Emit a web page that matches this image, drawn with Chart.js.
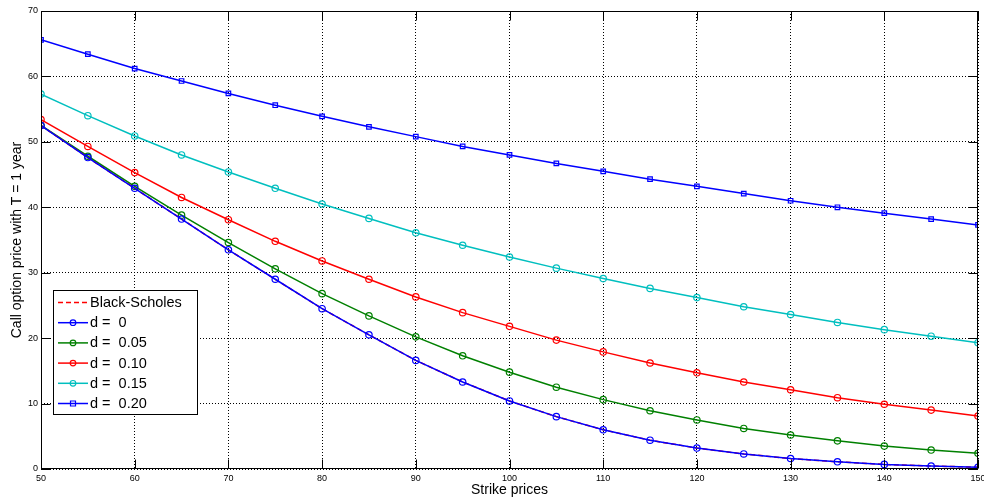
<!DOCTYPE html>
<html>
<head>
<meta charset="utf-8">
<script src="https://cdn.jsdelivr.net/npm/chart.js@4.4.0/dist/chart.umd.min.js"></script>
<style>
html,body{margin:0;padding:0;background:#fff;}
#wrap{width:984px;height:501px;position:relative;}
</style>
</head>
<body>
<div id="wrap"><canvas id="c" width="984" height="501"></canvas></div>
<script>
const strikes = [50,55,60,65,70,75,80,85,90,95,100,105,110,115,120,125,130,135,140,145,150];
const seriesLabels = ['Black-Scholes','d =  0','d =  0.05','d =  0.10','d =  0.15','d =  0.20'];
const blackScholes = [52.5,47.6,42.9,38.2,33.5,29.0,24.5,20.5,16.6,13.3,10.4,8.0,6.0,4.4,3.2,2.3,1.6,1.1,0.7,0.46,0.27];
const d000 = [52.5,47.6,42.9,38.2,33.5,29.0,24.5,20.5,16.6,13.3,10.4,8.0,6.0,4.4,3.2,2.3,1.6,1.1,0.7,0.46,0.27];
const d005 = [52.5,47.8,43.2,38.8,34.6,30.6,26.8,23.4,20.2,17.3,14.8,12.5,10.6,8.9,7.5,6.2,5.2,4.3,3.5,2.9,2.4];
const d010 = [53.4,49.3,45.3,41.5,38.1,34.8,31.8,29.0,26.3,23.9,21.8,19.7,17.9,16.2,14.7,13.3,12.1,10.9,9.9,9.0,8.1];
const d015 = [57.3,54.0,50.9,48.0,45.4,42.9,40.5,38.3,36.1,34.2,32.4,30.7,29.1,27.6,26.2,24.8,23.6,22.4,21.3,20.3,19.3];
const d020 = [65.6,63.4,61.2,59.3,57.4,55.6,53.9,52.3,50.8,49.3,48.0,46.7,45.5,44.3,43.2,42.1,41.0,40.0,39.1,38.2,37.3];
const xTicks = [50,60,70,80,90,100,110,120,130,140,150];
const yTicks = [0,10,20,30,40,50,60,70];
const xTitle = 'Strike prices';
const yTitle = 'Call option price with T = 1 year';

const allValues = [blackScholes,d000,d005,d010,d015,d020];
const colors = ['#ff0000','#0000ff','#008000','#ff0000','#00bfbf','#0000ff'];
const styles = [null,'circle','circle','circle','circle','rect'];
const dashes = [[5,3],[],[],[],[],[]];
const orders = [1,0,2,3,4,5];

const datasets = allValues.map((vals,i)=>({
  label: seriesLabels[i],
  data: strikes.map((s,j)=>({x:s,y:vals[j]})),
  borderColor: colors[i],
  backgroundColor: 'rgba(0,0,0,0)',
  pointBorderColor: colors[i],
  pointBackgroundColor: 'rgba(0,0,0,0)',
  pointStyle: styles[i] || 'circle',
  pointRadius: styles[i] ? 3.2 : 0,
  pointBorderWidth: 1.2,
  borderWidth: 1.5,
  borderDash: dashes[i],
  tension: 0,
  order: orders[i]
}));

const FONT = "'Liberation Sans', Arial, sans-serif";

const framePlugin = {
  id: 'frame',
  afterDraw(chart){
    const ctx = chart.ctx;
    const a = chart.chartArea;
    const xs = chart.scales.x, ys = chart.scales.y;
    ctx.save();
    ctx.strokeStyle = '#000';
    ctx.lineWidth = 1;
    ctx.setLineDash([]);
    const L = Math.round(a.left)+0.5, R = Math.round(a.right)-0.5, T = Math.round(a.top)+0.5, B = Math.round(a.bottom)-0.5;
    ctx.strokeRect(L, T, R-L, B-T);
    const tl = 9;
    ctx.beginPath();
    xTicks.forEach(v=>{
      const px = Math.round(xs.getPixelForValue(v))+0.5;
      ctx.moveTo(px,B); ctx.lineTo(px,B-tl);
      ctx.moveTo(px,T); ctx.lineTo(px,T+tl);
    });
    yTicks.forEach(v=>{
      const py = Math.round(ys.getPixelForValue(v))+0.5;
      ctx.moveTo(L,py); ctx.lineTo(L+tl,py);
      ctx.moveTo(R,py); ctx.lineTo(R-tl,py);
    });
    ctx.stroke();

    // legend
    const bx = 53.5, by = 290.5, bw = 144, bh = 124;
    ctx.fillStyle = '#fff';
    ctx.fillRect(bx,by,bw,bh);
    ctx.strokeStyle = '#000';
    ctx.lineWidth = 1;
    ctx.strokeRect(bx,by,bw,bh);
    ctx.font = '14.5px ' + FONT;
    ctx.textBaseline = 'middle';
    ctx.textAlign = 'left';
    chart.data.datasets.forEach((ds,i)=>{
      const y = 302.5 + i*20.2;
      ctx.strokeStyle = ds.borderColor;
      ctx.lineWidth = 1.5;
      ctx.setLineDash(ds.borderDash || []);
      ctx.beginPath(); ctx.moveTo(58,y); ctx.lineTo(88,y); ctx.stroke();
      ctx.setLineDash([]);
      if (ds.pointRadius > 0){
        ctx.lineWidth = 1.2;
        ctx.strokeStyle = ds.pointBorderColor;
        ctx.beginPath();
        if (ds.pointStyle === 'rect'){
          ctx.rect(73-2.5,y-2.5,5,5);
        } else {
          ctx.arc(73,y,2.8,0,Math.PI*2);
        }
        ctx.stroke();
      }
      ctx.fillStyle = '#000';
      ctx.fillText(ds.label, 90, y+0.5);
    });
    ctx.restore();
  }
};

new Chart(document.getElementById('c'), {
  type: 'line',
  data: { datasets },
  options: {
    responsive: false,
    animation: false,
    devicePixelRatio: 1,
    layout: { autoPadding: false, padding: { top: 11, right: 6, left: 0, bottom: 0 } },
    plugins: { legend: { display: false }, tooltip: { enabled: false } },
    elements: { line: { fill: false } },
    scales: {
      x: {
        type: 'linear',
        min: 50, max: 150,
        afterBuildTicks(scale){ scale.ticks = xTicks.map(v=>({value:v})); },
        afterFit(scale){ scale.height = 32; scale.paddingLeft = 0; scale.paddingRight = 0; },
        grid: { color: '#000', lineWidth: 1, drawTicks: false },
        border: { display: false, dash: [1,2] },
        ticks: { font: { family: FONT, size: 9 }, color: '#000', padding: 4, maxRotation: 0, autoSkip: false },
        title: { display: true, text: xTitle, font: { family: FONT, size: 14 }, color: '#000', padding: { top: 0, bottom: 2 } }
      },
      y: {
        type: 'linear',
        min: 0, max: 70,
        afterBuildTicks(scale){ scale.ticks = yTicks.map(v=>({value:v})); },
        afterFit(scale){ scale.width = 41; scale.paddingTop = 0; scale.paddingBottom = 0; },
        grid: { color: '#000', lineWidth: 1, drawTicks: false },
        border: { display: false, dash: [1,2] },
        ticks: { font: { family: FONT, size: 9 }, color: '#000', padding: 3, autoSkip: false },
        title: { display: true, text: yTitle, font: { family: FONT, size: 14 }, color: '#000', padding: { top: 9, bottom: 0 } }
      }
    }
  },
  plugins: [framePlugin]
});
</script>
</body>
</html>
